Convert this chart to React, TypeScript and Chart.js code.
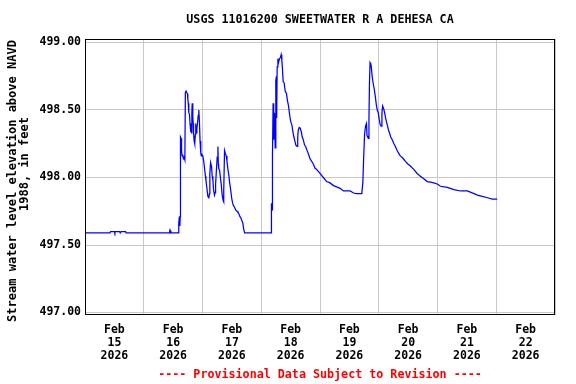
import React, { useEffect, useRef } from 'react';
import { Chart, registerables } from 'chart.js';

Chart.register(...registerables);

const TITLE = 'USGS 11016200 SWEETWATER R A DEHESA CA';
const Y_TITLE_LINE1 = 'Stream water level elevation above NAVD';
const Y_TITLE_LINE2 = '1988, in feet';
const FOOTER = '---- Provisional Data Subject to Revision ----';

// hours since Feb 15 2026 00:00
const HOURS = [
  0, 10.2, 10.4, 12.0, 12.2, 12.4, 14.2, 14.4, 14.8, 16.6, 16.8, 34.4, 34.6, 34.8, 35.1, 35.3, 38.15,
  38.3, 38.55, 38.75, 38.9, 39.0, 39.25, 39.45, 39.66, 39.9, 40.2, 40.48, 40.8, 41.0, 41.3, 41.85, 42.0,
  42.2, 42.4, 42.67, 42.9, 43.1, 43.3, 43.5, 43.65, 43.8, 44.03, 44.2, 44.35, 44.6, 44.75, 44.9, 45.1,
  45.25, 45.4, 45.7, 45.95, 46.25, 46.5, 46.75, 47.0, 47.3, 47.5, 47.75, 48.15, 48.5, 48.95, 49.2, 49.4,
  49.8, 50.2, 50.6, 50.85, 51.0, 51.3, 51.7, 51.95, 52.25, 52.5, 52.9, 53.2, 53.35, 53.6, 54.0, 54.3,
  54.45, 54.6, 55.0, 55.25, 55.65, 56.05, 56.45, 56.6, 56.75, 57.0, 57.3, 57.7, 58.0, 58.4, 58.8, 59.1,
  59.5, 59.9, 60.3, 60.7, 61.1, 61.55, 62.1, 62.5, 62.9, 63.3, 63.7, 64.1, 64.5, 64.8, 65.2, 76.1,
  76.17, 76.4, 76.58, 76.85, 77.0, 77.15, 77.4, 77.7, 77.95, 78.2, 78.3, 78.5, 78.8, 79.04, 79.45, 79.86,
  80.13, 80.4, 80.68, 80.95, 81.36, 81.77, 82.32, 82.7, 83.14, 83.69, 84.1, 84.51, 84.92, 85.33, 85.74,
  86.15, 86.7, 86.9, 87.11, 87.52, 87.93, 88.34, 88.75, 89.16, 89.7, 90.11, 90.94, 91.35, 91.89, 92.6,
  93.26, 93.94, 94.63, 95.3, 96.0, 97.36, 98.73, 100.1, 101.5, 102.8, 104.2, 105.6, 106.9, 108.3, 109.7,
  111.0, 112.4, 112.8, 113.1, 113.5, 113.8, 114.2, 114.6, 115.0, 115.2, 115.5, 115.7, 116.0, 116.2,
  116.45, 116.7, 116.9, 117.3, 117.7, 118.2, 118.6, 119.0, 119.4, 119.8, 120.2, 120.6, 121.0, 121.3,
  121.6, 122.0, 122.4, 122.8, 123.2, 123.6, 124.0, 124.4, 124.9, 125.5, 126.2, 126.8, 127.5, 128.1,
  128.8, 129.5, 130.2, 130.9, 131.9, 132.9, 134.3, 135.7, 137.0, 138.4, 139.8, 141.1, 142.5, 144.1,
  145.2, 148.0, 150.7, 153.4, 156.2, 158.9, 160.3, 162.3, 164.4, 166.4, 168.4,
];

// stream water level elevation, feet
const LEVELS = [
  497.59, 497.59, 497.60, 497.60, 497.59, 497.60, 497.60, 497.59, 497.60, 497.60, 497.59, 497.59, 497.60, 497.59, 497.60, 497.59, 497.59,
  497.66, 497.71, 497.64, 497.71, 498.30, 498.29, 498.20, 498.16, 498.17, 498.14, 498.15, 498.13, 498.63, 498.64, 498.62, 498.58,
  498.55, 498.48, 498.47, 498.40, 498.34, 498.36, 498.33, 498.48, 498.55, 498.45, 498.40, 498.33, 498.27, 498.31, 498.25, 498.32,
  498.40, 498.33, 498.36, 498.40, 498.46, 498.50, 498.41, 498.27, 498.18, 498.16, 498.17, 498.16, 498.12, 498.05, 498.01, 497.98,
  497.92, 497.86, 497.85, 497.88, 498.03, 498.11, 498.08, 498.01, 497.98, 497.91, 497.87, 497.89, 497.95, 498.03, 498.15, 498.23,
  498.10, 498.07, 498.05, 498.01, 497.95, 497.87, 497.83, 497.82, 497.90, 498.20, 498.18, 498.16, 498.12, 498.06, 498.01, 497.96,
  497.91, 497.85, 497.81, 497.79, 497.78, 497.76, 497.75, 497.74, 497.73, 497.71, 497.70, 497.68, 497.66, 497.62, 497.59, 497.59,
  497.81, 497.76, 498.16, 498.55, 498.35, 498.28, 498.48, 498.22, 498.72, 498.75, 498.44, 498.82, 498.88, 498.85, 498.88, 498.89,
  498.91, 498.87, 498.80, 498.71, 498.70, 498.64, 498.62, 498.57, 498.53, 498.45, 498.41, 498.39, 498.34, 498.30, 498.27,
  498.24, 498.23, 498.30, 498.35, 498.37, 498.365, 498.34, 498.30, 498.28, 498.24, 498.23, 498.19, 498.17, 498.14, 498.12,
  498.10, 498.07, 498.06, 498.045, 498.03, 498.00, 497.97, 497.96, 497.94, 497.93, 497.92, 497.90, 497.90, 497.90, 497.885,
  497.88, 497.88, 497.88, 497.89, 497.96, 498.13, 498.32, 498.38, 498.40, 498.31, 498.30, 498.29, 498.43, 498.69,
  498.85, 498.84, 498.83, 498.75, 498.70, 498.65, 498.60, 498.54, 498.50, 498.48, 498.43, 498.39, 498.38, 498.48,
  498.53, 498.51, 498.48, 498.44, 498.41, 498.38, 498.35, 498.33, 498.30, 498.28, 498.25, 498.23, 498.20, 498.18,
  498.16, 498.15, 498.135, 498.12, 498.10, 498.085, 498.06, 498.03, 498.01, 497.99, 497.97, 497.965, 497.96, 497.95,
  497.935, 497.927, 497.91, 497.90, 497.90, 497.88, 497.87, 497.86, 497.85, 497.84, 497.84,
];

const X_MIN = 0;
const X_MAX = 192;
const X_TICK_HOURS = [12, 36, 60, 84, 108, 132, 156, 180];
const X_TICK_MONTHS = ['Feb', 'Feb', 'Feb', 'Feb', 'Feb', 'Feb', 'Feb', 'Feb'];
const X_TICK_DAYS = ['15', '16', '17', '18', '19', '20', '21', '22'];
const X_TICK_YEARS = ['2026', '2026', '2026', '2026', '2026', '2026', '2026', '2026'];
const Y_TICKS = [497.0, 497.5, 498.0, 498.5, 499.0];
const Y_MIN = 496.9815;
const Y_MAX = 499.0259;

const FONT = '"DejaVu Sans Mono", monospace';

const framePlugin = {
  id: 'frameAndYTitle',
  afterDraw(chart: any) {
    const { ctx, chartArea } = chart;
    const { left, top, right, bottom } = chartArea;
    ctx.save();
    ctx.strokeStyle = '#000000';
    ctx.lineWidth = 1;
    ctx.strokeRect(left + 0.5, top + 0.5, right - left - 1, bottom - top - 1);
    ctx.fillStyle = '#000000';
    ctx.font = `bold 12px ${FONT}`;
    ctx.textAlign = 'center';
    ctx.textBaseline = 'middle';
    ctx.save();
    ctx.translate(12.5, 181);
    ctx.rotate(-Math.PI / 2);
    ctx.fillText(Y_TITLE_LINE1, 0, 0);
    ctx.restore();
    ctx.save();
    ctx.translate(24.5, 164);
    ctx.rotate(-Math.PI / 2);
    ctx.fillText(Y_TITLE_LINE2, 0, 0);
    ctx.restore();
    ctx.restore();
  },
};

export default function App() {
  const canvasRef = useRef<HTMLCanvasElement | null>(null);

  useEffect(() => {
    const canvas = canvasRef.current;
    if (!canvas) return;
    const data = HOURS.map((h, i) => ({ x: h, y: LEVELS[i] }));
    const chart = new Chart(canvas, {
      type: 'line',
      data: {
        datasets: [
          {
            data,
            borderColor: '#0000ff',
            borderWidth: 1.25,
            pointRadius: 0,
            tension: 0,
            fill: false,
          },
        ],
      },
      options: {
        animation: false,
        responsive: false,
        devicePixelRatio: 1,
        layout: { padding: { left: 0, right: 21, top: 0, bottom: 0 } },
        plugins: {
          legend: { display: false },
          tooltip: { enabled: false },
          title: {
            display: true,
            fullSize: false,
            text: TITLE,
            color: '#000000',
            font: { family: FONT, size: 11.7, weight: 'bold', lineHeight: 1.2 },
            padding: { top: 12.6, bottom: 12.36 },
          },
          subtitle: {
            display: true,
            fullSize: false,
            position: 'bottom',
            text: FOOTER,
            color: '#ff0000',
            font: { family: FONT, size: 11.7, weight: 'bold', lineHeight: 1.2 },
            padding: { top: 4.1, bottom: 1.86 },
          },
        },
        scales: {
          x: {
            type: 'linear',
            min: X_MIN,
            max: X_MAX,
            afterBuildTicks: (scale: any) => {
              scale.ticks = X_TICK_HOURS.map((v) => ({ value: v }));
            },
            afterFit: (scale: any) => {
              scale.height = 49;
            },
            grid: { offset: true, color: '#c8c8c8', lineWidth: 1, drawTicks: false },
            border: { display: false },
            ticks: {
              autoSkip: false,
              maxRotation: 0,
              minRotation: 0,
              padding: 8.3,
              color: '#000000',
              font: { family: FONT, size: 11.5, weight: 'bold', lineHeight: 1.13 },
              callback: (_v: any, i: number) => [X_TICK_MONTHS[i], X_TICK_DAYS[i], X_TICK_YEARS[i]],
            },
          },
          y: {
            type: 'linear',
            min: Y_MIN,
            max: Y_MAX,
            afterBuildTicks: (scale: any) => {
              scale.ticks = Y_TICKS.map((v) => ({ value: v }));
            },
            afterFit: (scale: any) => {
              scale.width = 85;
            },
            grid: { color: '#c8c8c8', lineWidth: 1, drawTicks: false },
            border: { display: false },
            ticks: {
              padding: 4,
              color: '#000000',
              font: { family: FONT, size: 11.5, weight: 'bold' },
              callback: (v: any) => Number(v).toFixed(2),
            },
          },
        },
      },
      plugins: [framePlugin],
    });
    return () => chart.destroy();
  }, []);

  return (
    <div style={{ position: 'fixed', left: 0, top: 0, width: 576, height: 384, background: '#ffffff' }}>
      <canvas ref={canvasRef} width={576} height={384} style={{ display: 'block' }} />
    </div>
  );
}
